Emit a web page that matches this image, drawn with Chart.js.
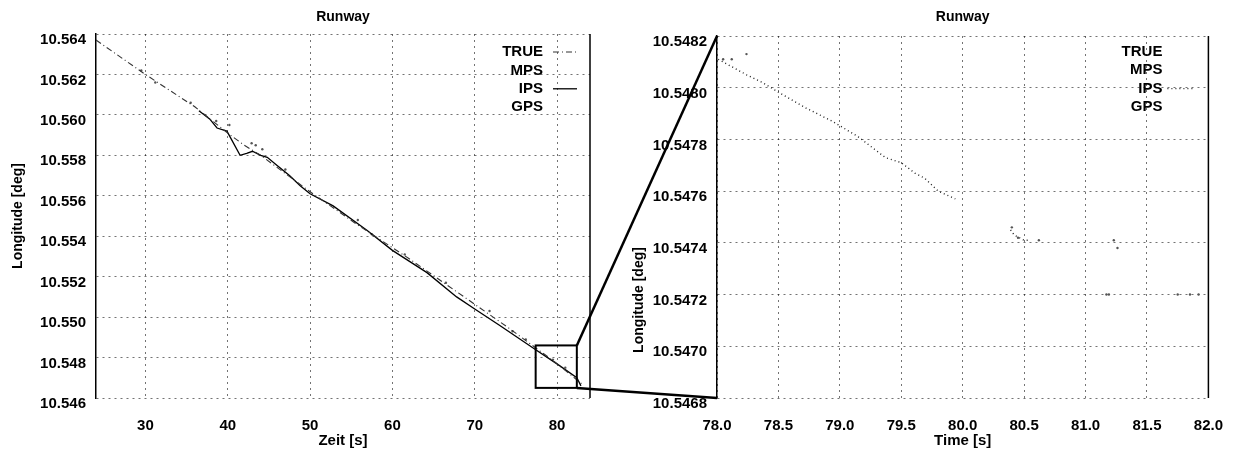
<!DOCTYPE html>
<html><head><meta charset="utf-8">
<script src="https://cdn.jsdelivr.net/npm/chart.js@4.4.1/dist/chart.umd.min.js"></script>
<style>
html,body{margin:0;padding:0;background:#fff;}
#wrap{position:relative;width:1242px;height:454px;overflow:hidden;background:#fff;}
canvas{position:absolute;left:0;top:0;}
</style></head><body>
<div id="wrap"><canvas id="left" width="1242" height="454"></canvas><canvas id="right" width="1242" height="454"></canvas></div>
<script>
// ---------- text ----------
const chartTitle = 'Runway';
const seriesNames = ['TRUE', 'MPS', 'IPS', 'GPS'];
const leftXTitle = 'Zeit [s]';
const rightXTitle = 'Time [s]';
const yTitle = 'Longitude [deg]';

// ---------- tick labels ----------
const leftXTicks = [30, 40, 50, 60, 70, 80];
const leftYTicks = [10.546, 10.548, 10.550, 10.552, 10.554, 10.556, 10.558, 10.560, 10.562, 10.564];
const rightXTicks = [78.0, 78.5, 79.0, 79.5, 80.0, 80.5, 81.0, 81.5, 82.0];
const rightYTicks = [10.5468, 10.5470, 10.5472, 10.5474, 10.5476, 10.5478, 10.5480, 10.5482];

// ---------- left (overview) series ----------
const leftTimeTrue = [24, 30, 36, 40, 42, 44, 50, 56, 62, 68, 74, 80, 83];
const leftLonTrue  = [10.5637, 10.5620, 10.5604, 10.5591, 10.5585, 10.5580, 10.5562, 10.5545, 10.5529, 10.5512, 10.5495, 10.5477, 10.5467];

const leftTimeMps = [29.5, 35.5, 38.6, 42.9, 44.2, 55.8, 61.5, 71.8, 76.2, 81.0];
const leftLonMps  = [10.5622, 10.5606, 10.5597, 10.5586, 10.5583, 10.5548, 10.5531, 10.5503, 10.5489, 10.5475];

const leftTimeIps = [36.5, 37.8, 38.7, 39.9, 40.3, 41.5, 42.3, 43.0, 44.0, 44.8, 46.0, 47.5, 48.8, 50.0, 52.8, 56.9, 60.0, 64.2, 67.8, 70.0, 73.0, 77.0, 80.3, 82.4, 82.9];
const leftLonIps  = [10.5602, 10.5598, 10.55935, 10.5592, 10.5589, 10.5580, 10.5581, 10.5582, 10.5580, 10.5579, 10.5575, 10.5570, 10.5565, 10.5561, 10.5555, 10.5543, 10.5533, 10.5522, 10.5510, 10.5504, 10.5496, 10.5485, 10.5476, 10.5470, 10.5466];

const leftTimeGps = [31.2, 40.2, 43.4, 47.0, 57.5, 66.5, 74.6, 79.5];
const leftLonGps  = [10.5616, 10.5595, 10.5585, 10.5573, 10.5541, 10.5517, 10.5493, 10.5479];

// ---------- right (zoomed) series ----------
const rightTimeTrue = [78.05, 78.12, 78.24];
const rightLonTrue  = [10.54811, 10.54811, 10.54813];

const rightTimeMps = [80.40, 80.45, 80.62, 81.17, 81.19];
const rightLonMps  = [10.54746, 10.54742, 10.54741, 10.54720, 10.54720];

const rightTimeIps = [78.01, 78.24, 78.37, 78.51, 78.73, 78.94, 79.15, 79.37, 79.50, 79.61, 79.69, 79.80, 79.94, 80.15, 80.39, 80.42, 80.50, 80.55];
const rightLonIps  = [10.54811, 10.54805, 10.54802, 10.54798, 10.54792, 10.54787, 10.54781, 10.54773, 10.54771, 10.54767, 10.54765, 10.54760, 10.54757, null, 10.54745, 10.54743, 10.54741, 10.54741];

const rightTimeGps = [81.23, 81.26, 81.75, 81.85, 81.92];
const rightLonGps  = [10.54741, 10.54738, 10.54720, 10.54720, 10.54720];

// ---------- zoom rectangle (data units of the overview) ----------
const zoomBoxTime = [77.4, 82.4];
const zoomBoxLon  = [10.5465, 10.5486];

// ---------- helpers ----------
const FONT = '"Liberation Sans", Arial, Helvetica, sans-serif';
Chart.defaults.font.family = FONT;
Chart.defaults.color = '#000';
const pts = (xs, ys) => xs.map((x, i) => ({x: x, y: ys[i]}));
const setTicks = (arr) => (s) => { s.ticks = arr.map(v => ({value: v})); };
const GRID = 'rgba(0,0,0,0.55)';

const framePlugin = {
  id: 'frame',
  afterDraw(chart, args, o) {
    const ctx = chart.ctx, a = chart.chartArea;
    ctx.save();
    ctx.strokeStyle = '#000'; ctx.lineWidth = 1.5; ctx.setLineDash([]);
    ctx.beginPath(); ctx.moveTo(a.right, a.top); ctx.lineTo(a.right, a.bottom); ctx.stroke();
    ctx.fillStyle = '#000';
    ctx.font = 'bold 14px ' + FONT; ctx.textAlign = 'center'; ctx.textBaseline = 'middle';
    ctx.fillText(chartTitle, (a.left + a.right) / 2, 17);
    ctx.font = 'bold 15px ' + FONT; ctx.textAlign = 'right';
    chart.data.datasets.forEach((ds, i) => {
      const y = o.legendY + i * o.legendDy;
      ctx.fillText(ds.label, a.right - o.textInset, y);
      if (ds.showLine === true) {
        ctx.save();
        ctx.setLineDash(ds.borderDash || []);
        ctx.lineWidth = ds.borderWidth; ctx.strokeStyle = ds.borderColor;
        ctx.beginPath(); ctx.moveTo(a.right - o.s0, y); ctx.lineTo(a.right - o.s1, y); ctx.stroke();
        ctx.restore();
      }
    });
    if (o.yTitle) {
      ctx.save();
      ctx.translate(o.yTitleX, o.yTitleY); ctx.rotate(-Math.PI / 2);
      ctx.font = 'bold 14px ' + FONT; ctx.textAlign = 'center'; ctx.textBaseline = 'middle';
      ctx.fillText(o.yTitle, 0, 0);
      ctx.restore();
    }
    ctx.restore();
  }
};

function lineDs(label, xs, ys, opts) {
  return Object.assign({label, data: pts(xs, ys), showLine: true, pointRadius: 0, borderColor: '#000', borderWidth: 1, spanGaps: false, fill: false}, opts);
}
function dotDs(label, xs, ys, opts) {
  return Object.assign({label, data: pts(xs, ys), showLine: false, pointRadius: 1.2, pointBorderWidth: 0, backgroundColor: '#555', borderColor: '#555'}, opts);
}

function axisX(min, max, ticks, fmt, title) {
  return {
    type: 'linear', min, max, afterBuildTicks: setTicks(ticks),
    afterFit: (s) => { s.height = 56; },
    grid: {color: GRID, lineWidth: 1, drawTicks: false},
    border: {display: false, dash: [2, 4]},
    ticks: {padding: 19, autoSkip: false, maxRotation: 0, minRotation: 0, color: '#000', font: {size: 15, weight: 'bold'}, callback: fmt},
    title: {display: true, text: title, color: '#000', font: {size: 15, weight: 'bold'}, padding: {top: 0, bottom: 4}}
  };
}
function axisY(min, max, ticks, fmt, width, title) {
  return {
    type: 'linear', min, max, afterBuildTicks: setTicks(ticks),
    afterFit: (s) => { s.width = width; },
    grid: {color: GRID, lineWidth: 1, drawTicks: false},
    border: {display: true, color: '#000', width: 1.5, dash: [2, 4]},
    ticks: {padding: 10, labelOffset: 6, autoSkip: false, color: '#000', font: {size: 15, weight: 'bold'}, callback: fmt},
    title: title ? {display: true, text: title, color: '#000', font: {size: 14, weight: 'bold'}, padding: {top: 10, bottom: 0}} : {display: false}
  };
}

const leftChart = new Chart(document.getElementById('left'), {
  type: 'scatter',
  data: {datasets: [
    lineDs(seriesNames[0], leftTimeTrue, leftLonTrue, {borderDash: [6, 3, 1, 3], borderColor: '#333', borderWidth: 1.1}),
    dotDs(seriesNames[1], leftTimeMps, leftLonMps),
    lineDs(seriesNames[2], leftTimeIps, leftLonIps, {borderWidth: 1.3}),
    dotDs(seriesNames[3], leftTimeGps, leftLonGps)
  ]},
  options: {
    responsive: false, animation: false, devicePixelRatio: 1,
    layout: {padding: {left: 0, right: 652, top: 34, bottom: 0}},
    plugins: {legend: {display: false}, tooltip: {enabled: false},
      frame: {legendY: 52, legendDy: 18.4, textInset: 47, s0: 37, s1: 13}},
    scales: {
      x: axisX(24, 84, leftXTicks, v => v.toFixed(0), leftXTitle),
      y: axisY(10.546, 10.564, leftYTicks, v => v.toFixed(3), 96, yTitle)
    }
  },
  plugins: [framePlugin]
});

const zoomPlugin = {
  id: 'zoomlink',
  afterDraw(chart) {
    const ctx = chart.ctx, a = chart.chartArea;
    const lx = leftChart.scales.x, ly = leftChart.scales.y;
    const x0 = lx.getPixelForValue(zoomBoxTime[0]), x1 = lx.getPixelForValue(zoomBoxTime[1]);
    const y0 = ly.getPixelForValue(zoomBoxLon[1]), y1 = ly.getPixelForValue(zoomBoxLon[0]);
    ctx.save();
    ctx.strokeStyle = '#000'; ctx.setLineDash([]);
    ctx.lineWidth = 2;
    ctx.strokeRect(x0, y0, x1 - x0, y1 - y0);
    ctx.lineWidth = 2.5;
    ctx.beginPath(); ctx.moveTo(x1, y0); ctx.lineTo(a.left, a.top); ctx.stroke();
    ctx.beginPath(); ctx.moveTo(x1, y1); ctx.lineTo(a.left, a.bottom); ctx.stroke();
    ctx.restore();
  }
};

const rightChart = new Chart(document.getElementById('right'), {
  type: 'scatter',
  data: {datasets: [
    dotDs(seriesNames[0], rightTimeTrue, rightLonTrue),
    dotDs(seriesNames[1], rightTimeMps, rightLonMps),
    lineDs(seriesNames[2], rightTimeIps, rightLonIps, {borderDash: [1, 3], borderWidth: 1.4, borderColor: '#222'}),
    dotDs(seriesNames[3], rightTimeGps, rightLonGps)
  ]},
  options: {
    responsive: false, animation: false, devicePixelRatio: 1,
    layout: {padding: {left: 637, right: 29, top: 36, bottom: 0}},
    plugins: {legend: {display: false}, tooltip: {enabled: false},
      frame: {legendY: 52, legendDy: 18.3, textInset: 46, s0: 41, s1: 16, yTitle: yTitle, yTitleX: 639, yTitleY: 300}},
    scales: {
      x: axisX(78, 82, rightXTicks, v => v.toFixed(1), rightXTitle),
      y: axisY(10.5468, 10.5482, rightYTicks, v => v.toFixed(4), 80, null)
    }
  },
  plugins: [framePlugin, zoomPlugin]
});
</script>
</body></html>
